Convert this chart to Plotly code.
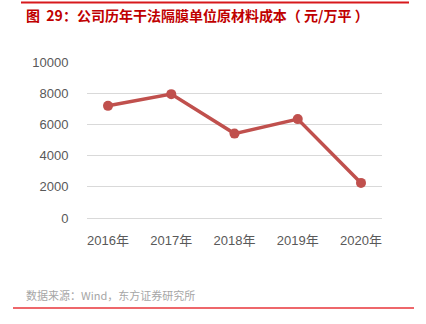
import plotly.graph_objects as go

# Dry-process separator raw material cost per 10k m² (yuan)
years = ["2016年", "2017年", "2018年", "2019年", "2020年"]
cost = [7190, 7940, 5410, 6340, 2250]
y_ticks = [0, 2000, 4000, 6000, 8000, 10000]
y_tick_labels = ["0", "2000", "4000", "6000", "8000", "10000"]

W, H = 426, 324
# plot area in pixels
px_left, px_right, px_top, px_bottom = 87, 382, 62, 218

fig = go.Figure(
    go.Scatter(
        x=years,
        y=cost,
        mode="lines+markers",
        line=dict(color="#C0504D", width=3.5),
        marker=dict(color="#C0504D", size=10),
        cliponaxis=False,
        hoverinfo="skip",
    )
)

font_cjk = "Noto Sans CJK SC, Liberation Sans, sans-serif"

fig.update_layout(
    width=W,
    height=H,
    margin=dict(l=0, r=0, t=0, b=0),
    paper_bgcolor="white",
    plot_bgcolor="white",
    showlegend=False,
    font=dict(family=font_cjk, color="#595959", size=13),
    xaxis=dict(
        domain=[px_left / W, px_right / W],
        showgrid=False,
        showline=False,
        zeroline=False,
        ticks="outside",
        ticklen=10,
        tickcolor="rgba(0,0,0,0)",
        tickfont=dict(family="Liberation Sans, " + font_cjk, size=13, color="#595959"),
        automargin=False,
        fixedrange=True,
    ),
    yaxis=dict(
        domain=[(H - px_bottom) / H, (H - px_top) / H],
        range=[0, 10000],
        tickvals=y_ticks,
        ticktext=y_tick_labels,
        showgrid=True,
        gridcolor="#D9D9D9",
        gridwidth=1,
        zeroline=True,
        zerolinecolor="#D9D9D9",
        zerolinewidth=1,
        showline=False,
        ticks="outside",
        ticklen=15,
        tickcolor="rgba(0,0,0,0)",
        tickfont=dict(family="Liberation Sans, sans-serif", size=13, color="#595959"),
        automargin=False,
        fixedrange=True,
    ),
    shapes=[
        dict(type="line", xref="paper", yref="paper",
             x0=21 / W, x1=409 / W, y0=1 - 2.5 / H, y1=1 - 2.5 / H,
             line=dict(color="#D7191C", width=2)),
        dict(type="line", xref="paper", yref="paper",
             x0=13 / W, x1=414 / W, y0=1 - 308 / H, y1=1 - 308 / H,
             line=dict(color="#E8343A", width=1.5)),
    ],
    annotations=[
        dict(text="<b>图  29：公司历年干法隔膜单位原材料成本（ 元/万平 ）</b>",
             xref="paper", yref="paper", x=24 / W, y=1 - 15.5 / H,
             xanchor="left", yanchor="middle", showarrow=False,
             font=dict(family=font_cjk, size=14, color="#C00000")),
        dict(text="数据来源：Wind，东方证券研究所",
             xref="paper", yref="paper", x=24 / W, y=1 - 295 / H,
             xanchor="left", yanchor="middle", showarrow=False,
             font=dict(family=font_cjk, size=11, color="#A6A6A6")),
    ],
)

fig.write_html("out.html", config={"displayModeBar": False})
